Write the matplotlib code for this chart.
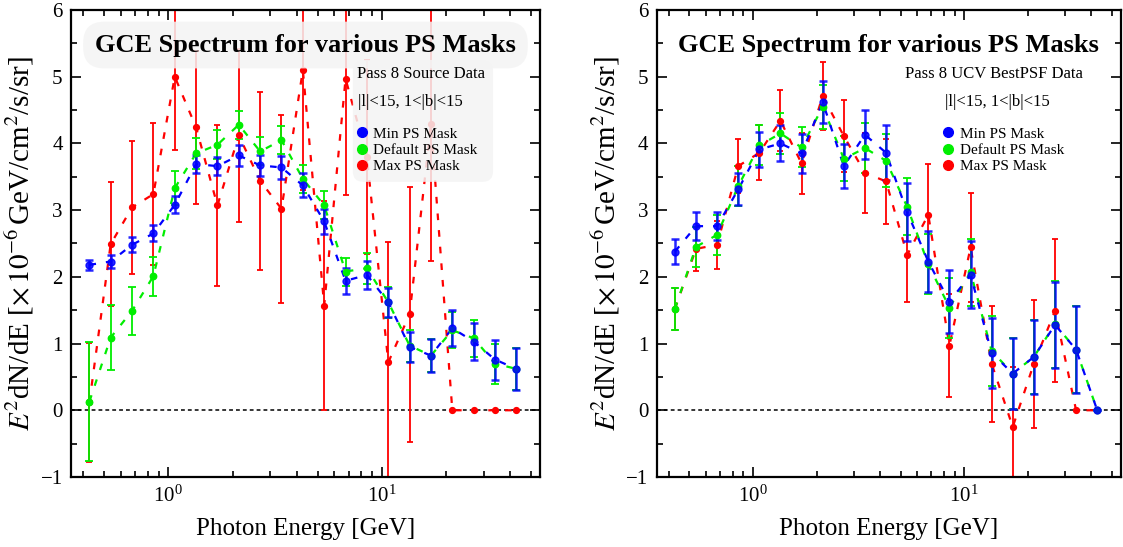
import matplotlib
matplotlib.use("Agg")
import matplotlib.pyplot as plt
from matplotlib.lines import Line2D
from matplotlib.patches import FancyBboxPatch

plt.rcParams['font.family'] = ['Liberation Serif', 'DejaVu Serif']
plt.rcParams['mathtext.fontset'] = 'stix'

# photon energy bin centres [GeV]
energy = [0.427, 0.537, 0.676, 0.851, 1.072, 1.349, 1.698, 2.138, 2.692, 3.388, 4.266,
          5.370, 6.761, 8.511, 10.72, 13.49, 16.98, 21.38, 26.92, 33.88, 42.66]

# left panel: Pass 8 Source data
src_min = [2.18, 2.23, 2.48, 2.65, 3.08, 3.69, 3.66, 3.82, 3.67, 3.64, 3.37,
           2.83, 1.94, 2.03, 1.62, 0.95, 0.82, 1.23, 1.03, 0.76, 0.62]
src_min_err = [0.08, 0.10, 0.11, 0.12, 0.13, 0.14, 0.14, 0.16, 0.16, 0.17, 0.18,
               0.19, 0.20, 0.21, 0.22, 0.23, 0.25, 0.27, 0.28, 0.30, 0.31]
src_def = [0.13, 1.09, 1.49, 2.01, 3.33, 3.85, 3.98, 4.28, 3.88, 4.05, 3.47,
           3.07, 2.08, 2.13, 1.62, 0.97, 0.82, 1.20, 1.08, 0.70, 0.62]
src_def_err = [0.89, 0.49, 0.36, 0.29, 0.26, 0.23, 0.22, 0.21, 0.21, 0.21, 0.21,
               0.21, 0.21, 0.23, 0.23, 0.24, 0.25, 0.27, 0.28, 0.30, 0.31]
src_max = [0.12, 2.49, 3.04, 3.24, 5.00, 4.24, 3.07, 4.12, 3.44, 3.02, 5.10,
           1.57, 4.97, 3.80, 0.72, 1.44, 4.29, 0.0, 0.0, 0.0, 0.0]
src_max_err = [0.89, 0.93, 0.99, 1.06, 1.10, 1.15, 1.21, 1.30, 1.33, 1.41, 1.80,
               1.57, 1.75, 1.45, 1.80, 1.91, 2.05, 0.0, 0.0, 0.0, 0.0]

# right panel: Pass 8 UCV BestPSF data
ucv_min = [2.38, 2.76, 2.76, 3.31, 3.91, 4.00, 3.85, 4.62, 3.66, 4.13, 3.86,
           2.97, 2.23, 1.63, 2.03, 0.86, 0.55, 0.80, 1.28, 0.91, 0.0]
ucv_min_err = [0.19, 0.21, 0.21, 0.24, 0.26, 0.27, 0.29, 0.31, 0.33, 0.37, 0.41,
               0.43, 0.45, 0.47, 0.50, 0.53, 0.53, 0.56, 0.65, 0.65, 0.0]
ucv_def = [1.52, 2.45, 2.63, 3.36, 3.97, 4.15, 3.94, 4.55, 3.77, 3.93, 3.74,
           3.05, 2.19, 1.54, 2.07, 0.89, 0.55, 0.80, 1.29, 0.91, 0.0]
ucv_def_err = [0.32, 0.30, 0.30, 0.30, 0.30, 0.31, 0.30, 0.33, 0.34, 0.37, 0.40,
               0.43, 0.45, 0.45, 0.50, 0.53, 0.53, 0.56, 0.65, 0.65, 0.0]
ucv_max = [1.52, 2.42, 2.48, 3.66, 3.86, 4.34, 3.70, 4.71, 4.11, 3.56, 3.43,
           2.33, 2.93, 0.97, 2.44, 0.70, -0.25, 0.70, 1.49, 0.0, 0.0]
ucv_max_err = [0.32, 0.33, 0.36, 0.40, 0.41, 0.46, 0.46, 0.51, 0.54, 0.60, 0.64,
               0.70, 0.76, 0.77, 0.82, 0.87, 0.90, 0.96, 1.07, 0.0, 0.0]

labels = ['Min PS Mask', 'Default PS Mask', 'Max PS Mask']
colors = ['#0000ff', '#00ee00', '#ff0000']


def draw_panel(ax, series, subtitle, region, boxed, text_x, ha, region_x, leg_x):
    """ errorbar spectrum with title and legend """
    ax.axhline(0, color='k', lw=1.1, ls=(0, (2.5, 2)), zorder=1)

    # Max mask drawn first, Min mask on top
    styles = {
        'Max PS Mask': dict(ms=4.2, lw_e=1.3, cap=2.2, alpha=1.0),
        'Default PS Mask': dict(ms=4.6, lw_e=1.3, cap=2.6, alpha=1.0),
        'Min PS Mask': dict(ms=5.0, lw_e=1.8, cap=3.0, alpha=0.85),
    }
    for label in ['Max PS Mask', 'Default PS Mask', 'Min PS Mask']:
        y, err = series[label]
        c = colors[labels.index(label)]
        st = styles[label]
        ax.errorbar(energy, y, yerr=err, fmt='o', color=c, ms=st['ms'],
                    ecolor=c, elinewidth=st['lw_e'], capsize=st['cap'],
                    capthick=st['lw_e'], alpha=st['alpha'], zorder=2)
        ax.plot(energy, y, color=c, lw=1.6, ls=(0, (3.0, 4.5)), zorder=2)

    ax.set_xscale('log')
    ax.set_xlim(0.35, 55)
    ax.set_ylim(-1, 6)
    ax.set_xlabel('Photon Energy [GeV]', fontsize=18, labelpad=8)
    ax.set_ylabel(r'$E^2$dN/dE [$\times\,10^{-6}\,$GeV/cm$^2$/s/sr]', fontsize=21, labelpad=3)

    ax.tick_params(which='both', direction='in', top=True, right=True, labelsize=15)
    ax.tick_params(which='major', length=7, width=1.2, pad=6)
    ax.tick_params(which='minor', length=4, width=1.2)
    ax.yaxis.set_minor_locator(matplotlib.ticker.MultipleLocator(0.5))
    for sp in ax.spines.values():
        sp.set_linewidth(1.6)

    tbox = None
    if boxed:
        tbox = dict(boxstyle='round,pad=0.45,rounding_size=0.8', fc='#f4f4f4', ec='none', alpha=0.85)
        # background box behind the data description and the legend
        ax.add_patch(FancyBboxPatch((0.601, 0.632), 0.299, 0.261, transform=ax.transAxes,
                                    boxstyle='round,pad=0,rounding_size=0.022',
                                    fc='#f4f4f4', ec='none', alpha=0.85, zorder=8))
    ax.text(0.5, 0.925, 'GCE Spectrum for various PS Masks', transform=ax.transAxes,
            ha='center', va='center', fontsize=19, fontweight='bold', bbox=tbox, zorder=10)
    ax.text(text_x, 0.863, subtitle, transform=ax.transAxes, ha=ha, va='center',
            fontsize=12, zorder=10)
    ax.text(region_x, 0.804, region, transform=ax.transAxes, ha=ha, va='center',
            fontsize=12, zorder=10)

    handles = [Line2D([], [], marker='o', ls='none', color=c, ms=7) for c in colors]
    leg = ax.legend(handles, labels, loc='center left', bbox_to_anchor=(leg_x, 0.700),
                    fontsize=11, handlelength=0.8, handletextpad=0.35, labelspacing=0.17,
                    borderpad=0, borderaxespad=0, frameon=False)
    leg.set_zorder(10)


fig = plt.figure(figsize=(11.23, 5.47), dpi=100)
ax1 = fig.add_axes([0.0632, 0.128, 0.4176, 0.8537])
ax2 = fig.add_axes([0.5848, 0.128, 0.413, 0.8537])

draw_panel(ax1, {'Min PS Mask': (src_min, src_min_err),
                 'Default PS Mask': (src_def, src_def_err),
                 'Max PS Mask': (src_max, src_max_err)},
           'Pass 8 Source Data', '|l|<15, 1<|b|<15', True, 0.610, 'left', 0.611, 0.607)
draw_panel(ax2, {'Min PS Mask': (ucv_min, ucv_min_err),
                 'Default PS Mask': (ucv_def, ucv_def_err),
                 'Max PS Mask': (ucv_max, ucv_max_err)},
           'Pass 8 UCV BestPSF Data', '|l|<15, 1<|b|<15', False, 0.728, 'center', 0.735, 0.615)

fig.savefig('out.png', dpi=100)
